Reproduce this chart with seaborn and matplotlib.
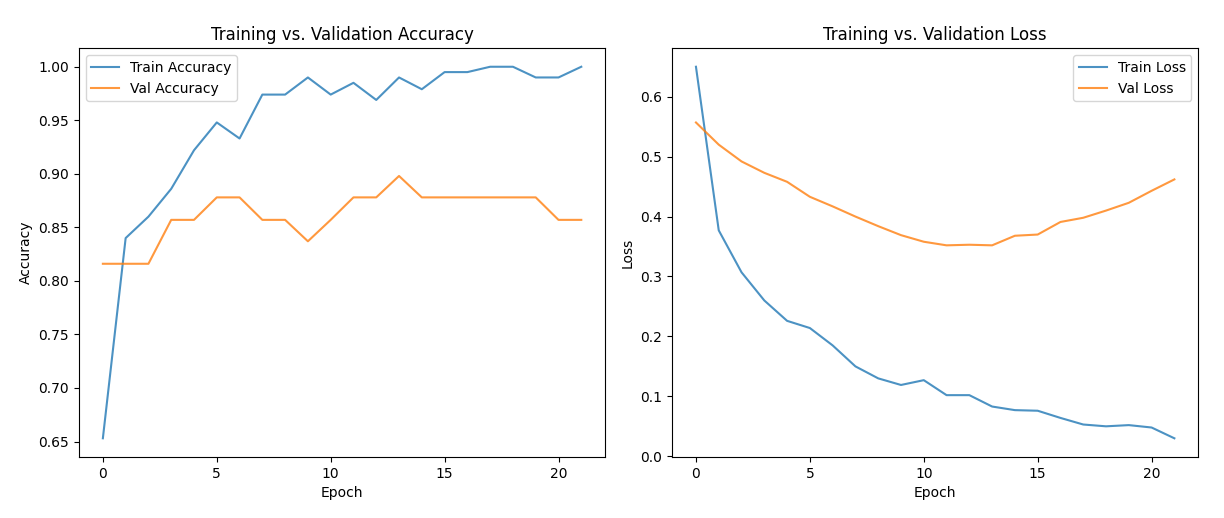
import numpy as np
import pandas as pd
import matplotlib
matplotlib.use("Agg")
import matplotlib.pyplot as plt
import seaborn as sns

# Per-epoch training history
epochs = list(range(22))
train_acc = [0.653, 0.840, 0.860, 0.886, 0.922, 0.948, 0.933, 0.974, 0.974, 0.990, 0.974,
             0.985, 0.969, 0.990, 0.979, 0.995, 0.995, 1.000, 1.000, 0.990, 0.990, 1.000]
val_acc = [0.816, 0.816, 0.816, 0.857, 0.857, 0.878, 0.878, 0.857, 0.857, 0.837, 0.857,
           0.878, 0.878, 0.898, 0.878, 0.878, 0.878, 0.878, 0.878, 0.878, 0.857, 0.857]
train_loss = [0.650, 0.377, 0.307, 0.260, 0.226, 0.214, 0.185, 0.150, 0.130, 0.119, 0.127,
              0.102, 0.102, 0.083, 0.077, 0.076, 0.064, 0.053, 0.050, 0.052, 0.048, 0.030]
val_loss = [0.557, 0.520, 0.492, 0.473, 0.458, 0.433, 0.417, 0.400, 0.384, 0.369, 0.358,
            0.352, 0.353, 0.352, 0.368, 0.370, 0.391, 0.398, 0.410, 0.423, 0.443, 0.462]

blue = '#1f77b4'
orange = '#ff7f0e'

fig, axes = plt.subplots(1, 2, figsize=(12.24, 5.18), dpi=100)

# Accuracy plot
ax = axes[0]
sns.lineplot(x=epochs, y=train_acc, ax=ax, label='Train Accuracy', color=blue, alpha=0.8)
sns.lineplot(x=epochs, y=val_acc, ax=ax, label='Val Accuracy', color=orange, alpha=0.8)
ax.set_title('Training vs. Validation Accuracy')
ax.set_xlabel('Epoch')
ax.set_ylabel('Accuracy')
ax.legend(loc='upper left')

# Loss plot
ax = axes[1]
sns.lineplot(x=epochs, y=train_loss, ax=ax, label='Train Loss', color=blue, alpha=0.8)
sns.lineplot(x=epochs, y=val_loss, ax=ax, label='Val Loss', color=orange, alpha=0.8)
ax.set_title('Training vs. Validation Loss')
ax.set_xlabel('Epoch')
ax.set_ylabel('Loss')
ax.legend(loc='upper right')

fig.subplots_adjust(left=0.0645, right=0.979, top=0.907, bottom=0.118, wspace=0.127)
plt.savefig('out.png', dpi=100)
plt.close()
